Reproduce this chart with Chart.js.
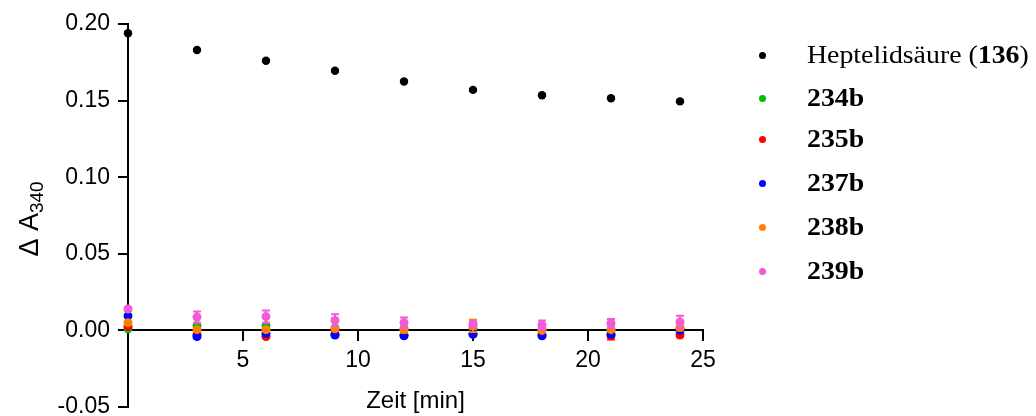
<!DOCTYPE html>
<html>
<head>
<meta charset="utf-8">
<title>Δ A340 – Zeitverlauf</title>
<script src="https://cdn.jsdelivr.net/npm/chart.js@4.4.1/dist/chart.umd.min.js"></script>
<style>
  html, body { margin: 0; padding: 0; background: #fff; }
  #wrap { position: relative; width: 1036px; height: 416px; }
  #chart { position: absolute; left: 0; top: 0; }
  .row { position: absolute; left: 759px; height: 30px; display: flex; align-items: center;
         font-family: "Liberation Serif", "Times New Roman", serif; font-size: 26px; color: #000; white-space: nowrap; }
  .dot { width: 7px; height: 7px; border-radius: 50%; flex: none; }
  .txt { display: inline-block; margin-left: 41px; transform: scaleX(1.07); transform-origin: left center; }
  .txt b { font-weight: bold; }
</style>
</head>
<body>
<div id="wrap">
  <canvas id="chart" width="1036" height="416"></canvas>
  <div id="legend"></div>
</div>
<script>
// Time points (min)
const times = [0, 3, 6, 9, 12, 15, 18, 21, 24];

// Mean ΔA340 per compound
const heptelidsaeure = [0.194, 0.183, 0.176, 0.1695, 0.1625, 0.157, 0.1535, 0.1515, 0.1495];
const c234b = [0.001, 0.003, 0.003, 0.0015, 0.001, 0.001, 0.0005, 0.0005, 0.001];
const c235b = [0.0025, -0.003, -0.004, -0.0025, -0.003, -0.002, -0.003, -0.0035, -0.003];
const c237b = [0.0095, -0.004, -0.002, -0.003, -0.0035, -0.0025, -0.0035, -0.0025, 0.0];
const c238b = [0.005, 0.0005, 0.0005, 0.001, 0.0005, 0.003, 0.0, 0.0005, 0.002];
const c239b = [0.014, 0.0087, 0.009, 0.0065, 0.005, 0.004, 0.0035, 0.0045, 0.0055];

// Standard deviations
const errHeptelidsaeure = [0.0005, 0.0005, 0.0005, 0.0005, 0.0005, 0.0005, 0.0005, 0.0005, 0.0005];
const err234b = [0.0005, 0.001, 0.001, 0.001, 0.001, 0.001, 0.001, 0.001, 0.001];
const err235b = [0.0005, 0.001, 0.001, 0.001, 0.001, 0.001, 0.001, 0.0025, 0.001];
const err237b = [0.0005, 0.001, 0.001, 0.001, 0.001, 0.001, 0.001, 0.001, 0.001];
const err238b = [0.0005, 0.0005, 0.001, 0.001, 0.002, 0.004, 0.001, 0.001, 0.002];
const err239b = [0.001, 0.0037, 0.004, 0.004, 0.0035, 0.002, 0.003, 0.003, 0.004];

// Axis ticks
const yTickValues = [-0.05, 0.00, 0.05, 0.10, 0.15, 0.20];
const xTickValues = [5, 10, 15, 20, 25];

// Series labels (text parts, bold flag)
const seriesLabels = [
  [['Heptelidsäure (', false], ['136', true], [')', false]],
  [['234b', true]],
  [['235b', true]],
  [['237b', true]],
  [['238b', true]],
  [['239b', true]]
];
const seriesValues = [heptelidsaeure, c234b, c235b, c237b, c238b, c239b];
const seriesErrors = [errHeptelidsaeure, err234b, err235b, err237b, err238b, err239b];
const seriesColors = ['#000000', '#00c000', '#ff0000', '#0000ff', '#ff8000', '#f45ad8'];
const seriesRadius = [4.2, 4.5, 4.5, 4.5, 4.5, 4.5];

const datasets = seriesValues.map((vals, i) => ({
  label: seriesLabels[i].map(p => p[0]).join(''),
  data: times.map((t, j) => ({ x: t, y: vals[j] })),
  backgroundColor: seriesColors[i],
  borderColor: seriesColors[i],
  pointRadius: seriesRadius[i],
  pointBorderWidth: 0,
  showLine: false,
  clip: false,
  order: seriesValues.length - 1 - i
}));

// Error bars drawn just beneath each dataset's points
const errorBars = {
  id: 'errorBars',
  beforeDatasetDraw(chart, args) {
    const i = args.index;
    const meta = args.meta;
    const ys = chart.scales.y;
    const ctx = chart.ctx;
    ctx.save();
    ctx.strokeStyle = seriesColors[i];
    ctx.lineWidth = 2;
    meta.data.forEach((pt, j) => {
      const v = seriesValues[i][j], e = seriesErrors[i][j];
      const top = ys.getPixelForValue(v + e), bot = ys.getPixelForValue(v - e);
      ctx.beginPath();
      ctx.moveTo(pt.x, top); ctx.lineTo(pt.x, bot);
      ctx.moveTo(pt.x - 4, top); ctx.lineTo(pt.x + 4, top);
      ctx.moveTo(pt.x - 4, bot); ctx.lineTo(pt.x + 4, bot);
      ctx.stroke();
    });
    ctx.restore();
  }
};

// Axis titles (y title with subscript)
const axisTitles = {
  id: 'axisTitles',
  afterDraw(chart) {
    const ctx = chart.ctx;
    const area = chart.chartArea;
    ctx.save();
    ctx.fillStyle = '#000';
    // x title
    ctx.font = '24px "Liberation Sans", Arial, sans-serif';
    ctx.textAlign = 'center';
    ctx.textBaseline = 'middle';
    ctx.fillText('Zeit [min]', (area.left + area.right) / 2, 401);
    // y title
    const main = 'Δ A', sub = '340';
    const mainFont = '27px "Liberation Sans", Arial, sans-serif';
    const subFont = '19px "Liberation Sans", Arial, sans-serif';
    ctx.font = mainFont;
    const wMain = ctx.measureText(main).width;
    ctx.font = subFont;
    const wSub = ctx.measureText(sub).width;
    const total = wMain + wSub;
    ctx.translate(38, 219);
    ctx.rotate(-Math.PI / 2);
    ctx.textAlign = 'left';
    ctx.textBaseline = 'alphabetic';
    ctx.font = mainFont;
    ctx.fillText(main, -total / 2, 0);
    ctx.font = subFont;
    ctx.fillText(sub, -total / 2 + wMain, 5);
    ctx.restore();
  }
};

const tickFont = { family: '"Liberation Sans", Arial, sans-serif', size: 23 };

new Chart(document.getElementById('chart'), {
  type: 'scatter',
  data: { datasets },
  plugins: [errorBars, axisTitles],
  options: {
    responsive: false,
    animation: false,
    events: [],
    layout: { padding: { left: 0, right: 333, top: 24, bottom: 9 } },
    plugins: { legend: { display: false }, tooltip: { enabled: false } },
    scales: {
      x: {
        type: 'linear',
        position: { y: 0 },
        min: 0,
        max: 25,
        afterBuildTicks(scale) { scale.ticks = xTickValues.map(v => ({ value: v })); },
        afterFit(scale) { scale.paddingLeft = 0; scale.paddingRight = 0; },
        ticks: { font: tickFont, color: '#000', padding: 6, maxRotation: 0 },
        grid: { drawOnChartArea: false, drawTicks: true, tickLength: 10, lineWidth: 2, color: '#000' },
        border: { display: true, color: '#000', width: 2 }
      },
      y: {
        type: 'linear',
        position: 'left',
        min: -0.05,
        max: 0.20,
        afterBuildTicks(scale) { scale.ticks = yTickValues.map(v => ({ value: v })); },
        afterFit(scale) { scale.width = 128; scale.paddingTop = 0; scale.paddingBottom = 0; },
        ticks: { font: tickFont, color: '#000', padding: 8, callback: v => Number(v).toFixed(2) },
        grid: { drawOnChartArea: false, drawTicks: true, tickLength: 10, lineWidth: 2, color: '#000' },
        border: { display: true, color: '#000', width: 2 }
      }
    }
  }
});

// Legend
const legend = document.getElementById('legend');
const legendRowCenters = [55, 98, 139, 183, 227, 271];
seriesLabels.forEach((parts, i) => {
  const row = document.createElement('div');
  row.className = 'row';
  row.style.top = (legendRowCenters[i] - 15) + 'px';
  const dot = document.createElement('span');
  dot.className = 'dot';
  dot.style.background = seriesColors[i];
  const txt = document.createElement('span');
  txt.className = 'txt';
  parts.forEach(([s, bold]) => {
    const el = document.createElement(bold ? 'b' : 'span');
    el.textContent = s;
    txt.appendChild(el);
  });
  row.appendChild(dot);
  row.appendChild(txt);
  legend.appendChild(row);
});
</script>
</body>
</html>
